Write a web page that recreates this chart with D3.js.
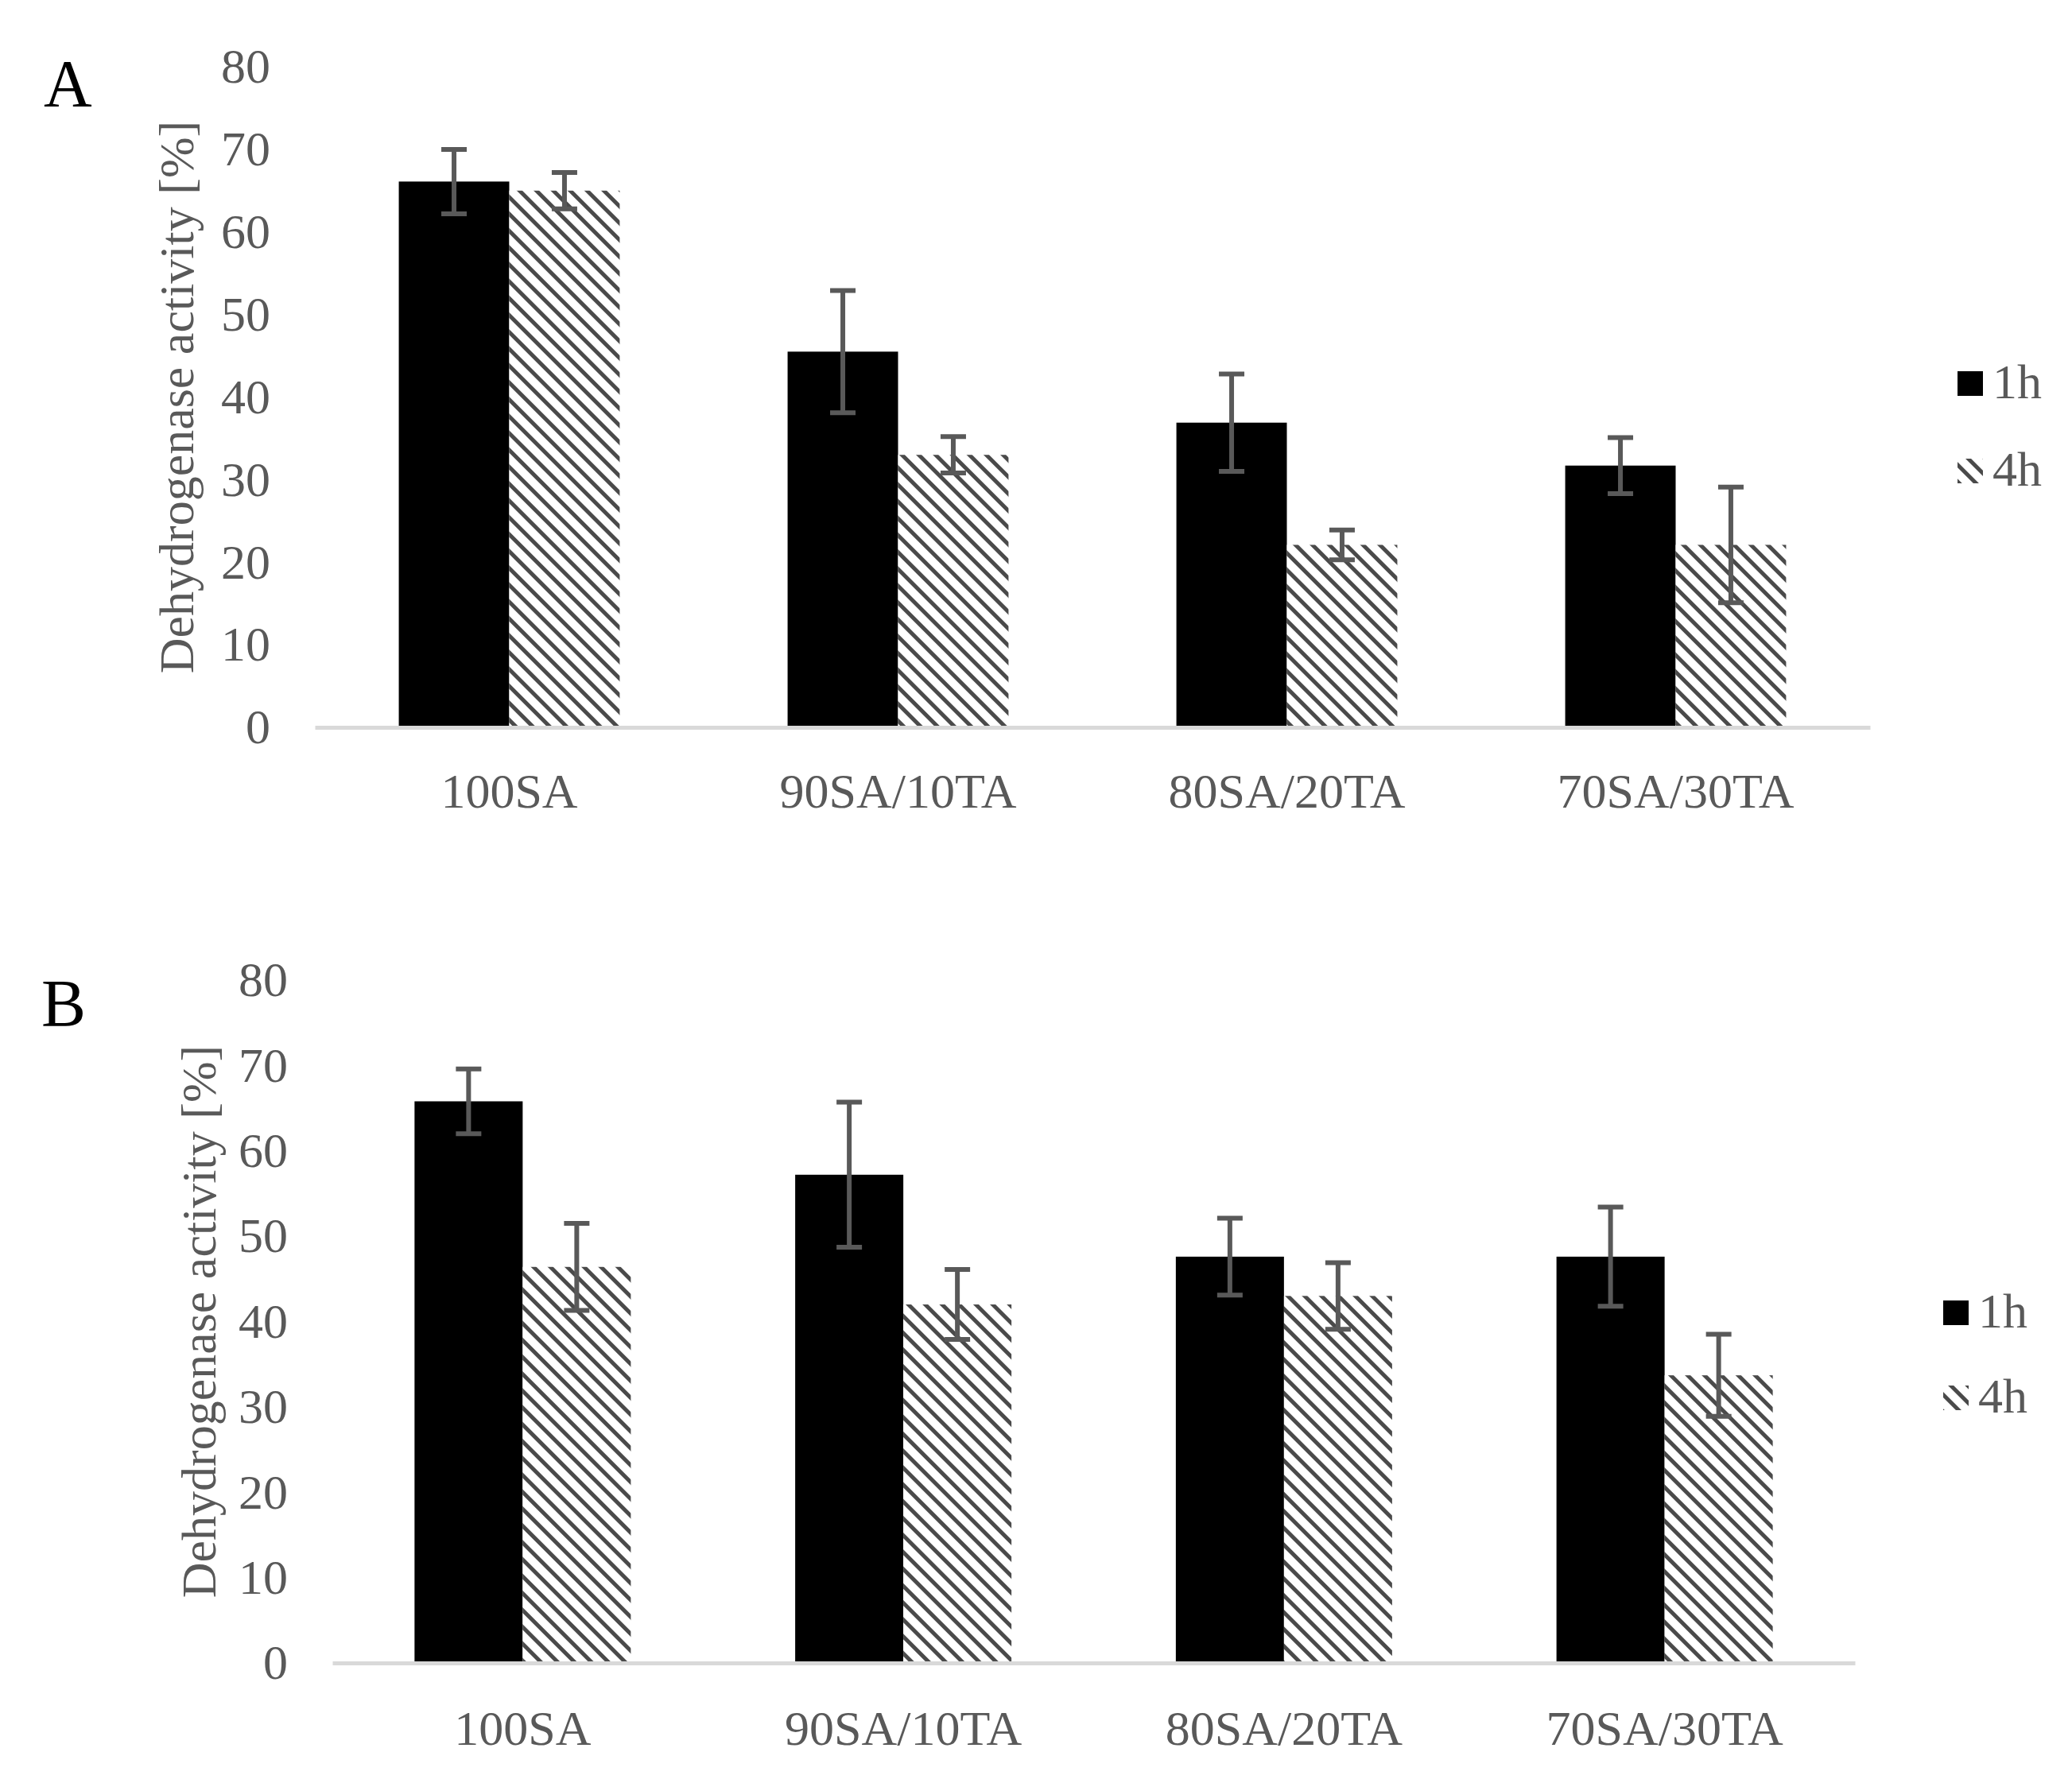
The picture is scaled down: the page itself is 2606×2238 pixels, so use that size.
<!DOCTYPE html>
<html lang="en">
<head>
<meta charset="UTF-8">
<title>Dehydrogenase activity</title>
<script src="https://d3js.org/d3.v7.min.js"></script>
<style>
  body { margin: 0; background: #fff; }
  text { font-family: "Liberation Serif", "Times New Roman", serif; }
</style>
</head>
<body>
<script>
// data
const categories = ["100SA", "90SA/10TA", "80SA/20TA", "70SA/30TA"];
const seriesNames = ["1h", "4h"];
const yTicks = [0, 10, 20, 30, 40, 50, 60, 70, 80];

const panelA_1h = [66.1, 45.5, 36.9, 31.7];
const panelA_1hErr = [3.9, 7.4, 5.9, 3.4];
const panelA_4h = [65.0, 33.0, 22.1, 22.1];
const panelA_4hErr = [2.2, 2.2, 1.8, 7.0];

const panelB_1h = [65.8, 57.2, 47.6, 47.6];
const panelB_1hErr = [3.8, 8.5, 4.5, 5.8];
const panelB_4h = [46.4, 42.0, 43.0, 33.7];
const panelB_4hErr = [5.1, 4.1, 3.9, 4.8];

const grey = "#595959";
const fs = 62;

const svg = d3.select("body").append("svg")
    .attr("width", 2606)
    .attr("height", 2238);

svg.append("rect").attr("width", 2606).attr("height", 2238).attr("fill", "#fff");

// diagonal hatch for the 4h series
const pat = svg.append("defs").append("pattern")
    .attr("id", "hatch")
    .attr("patternUnits", "userSpaceOnUse")
    .attr("width", 15).attr("height", 15)
    .attr("patternTransform", "rotate(45)");
pat.append("rect").attr("width", 15).attr("height", 15).attr("fill", "#fff");
pat.append("line")
    .attr("x1", 0).attr("y1", 7.5).attr("x2", 15).attr("y2", 7.5)
    .attr("stroke", "#4a4a4a").attr("stroke-width", 5);

const fills = { "1h": "#000", "4h": "url(#hatch)" };

function drawPanel(p) {
    const g = svg.append("g");

    const x = d3.scaleBand().domain(categories).range([p.left, p.right]).padding(0);
    const xs = d3.scaleBand().domain(seriesNames).range([0, x.bandwidth()])
        .paddingInner(0).paddingOuter(0.76);
    const y = d3.scaleLinear().domain([0, 80]).range([p.bottom, p.top]);

    const rows = [];
    categories.forEach((c, i) => {
        rows.push({ cat: c, s: "1h", v: p.s1[i], e: p.e1[i] });
        rows.push({ cat: c, s: "4h", v: p.s2[i], e: p.e2[i] });
    });

    // y axis labels
    const ya = g.append("g")
        .attr("transform", `translate(${p.left},0)`)
        .call(d3.axisLeft(y).tickValues(yTicks).tickSize(0).tickPadding(56));
    ya.select(".domain").remove();
    ya.selectAll("text").attr("font-size", fs).attr("fill", grey)
        .style("font-family", "Liberation Serif");

    // bars
    g.append("g").selectAll("rect")
        .data(rows)
        .join("rect")
        .attr("x", d => x(d.cat) + xs(d.s))
        .attr("width", xs.bandwidth())
        .attr("y", d => y(d.v))
        .attr("height", d => y(0) - y(d.v))
        .attr("fill", d => fills[d.s]);

    // x axis
    const xa = g.append("g")
        .attr("transform", `translate(0,${p.bottom})`)
        .call(d3.axisBottom(x).tickSize(0).tickPadding(p.xPad));
    xa.select(".domain").attr("stroke", "#d9d9d9").attr("stroke-width", 5);
    xa.selectAll("text").attr("font-size", fs).attr("fill", grey)
        .style("font-family", "Liberation Serif");

    // error bars
    const eb = g.append("g").attr("stroke", grey).attr("stroke-width", 6);
    rows.forEach(d => {
        const cx = x(d.cat) + xs(d.s) + xs.bandwidth() / 2;
        const y1 = y(d.v + d.e), y2 = y(d.v - d.e);
        eb.append("line").attr("x1", cx).attr("x2", cx).attr("y1", y1).attr("y2", y2);
        eb.append("line").attr("x1", cx - 16).attr("x2", cx + 16).attr("y1", y1).attr("y2", y1);
        eb.append("line").attr("x1", cx - 16).attr("x2", cx + 16).attr("y1", y2).attr("y2", y2);
    });

    // y title
    g.append("text")
        .attr("transform", `translate(${p.titleX},${(p.top + p.bottom) / 2}) rotate(-90)`)
        .attr("text-anchor", "middle")
        .attr("dominant-baseline", "central")
        .attr("font-size", fs)
        .attr("fill", grey)
        .text("Dehydrogenase activity [%]");

    // panel letter
    g.append("text")
        .attr("x", p.letterX).attr("y", p.letterY)
        .attr("font-size", 84)
        .attr("fill", "#000")
        .text(p.letter);

    // legend
    const lg = g.append("g");
    seriesNames.forEach((s, i) => {
        lg.append("rect")
            .attr("x", p.legX).attr("y", p.legY[i])
            .attr("width", 32).attr("height", 31)
            .attr("fill", fills[s]);
        lg.append("text")
            .attr("x", p.legX + 44).attr("y", p.legY[i] + 34)
            .attr("font-size", fs)
            .attr("fill", grey)
            .text(s);
    });
}

drawPanel({
    letter: "A", letterX: 55, letterY: 134,
    left: 396, right: 2352, top: 84, bottom: 915, xPad: 57,
    titleX: 222,
    legX: 2462, legY: [467, 577],
    s1: panelA_1h, e1: panelA_1hErr, s2: panelA_4h, e2: panelA_4hErr
});

drawPanel({
    letter: "B", letterX: 52, letterY: 1291,
    left: 418, right: 2333, top: 1233, bottom: 2092, xPad: 59,
    titleX: 250,
    legX: 2444, legY: [1636, 1743],
    s1: panelB_1h, e1: panelB_1hErr, s2: panelB_4h, e2: panelB_4hErr
});
</script>
</body>
</html>
